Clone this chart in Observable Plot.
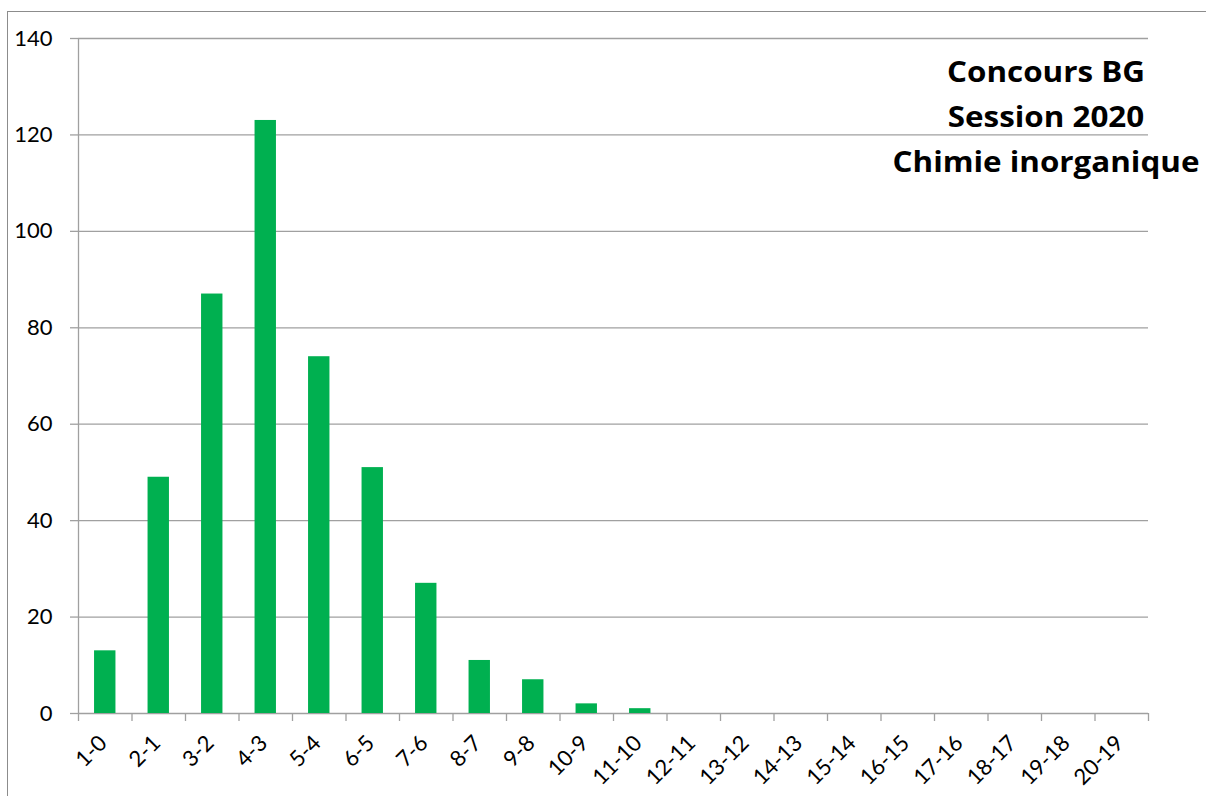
<!DOCTYPE html>
<html>
<head>
<meta charset="utf-8">
<script src="https://cdn.jsdelivr.net/npm/d3@7"></script>
<script src="https://cdn.jsdelivr.net/npm/@observablehq/plot@0.6"></script>
<style>
  html, body { margin: 0; padding: 0; background: #fff; }
  #wrap { position: relative; width: 1206px; height: 796px; overflow: hidden; }
  #frame { position: absolute; left: 7px; top: 11px; width: 1300px; height: 900px;
           border-left: 1.5px solid #8c8c8c; border-top: 1.5px solid #8c8c8c; pointer-events: none; }
  #title { position: absolute; left: 846px; width: 400px; top: 49px; text-align: center;
           font-family: "Open Sans", Lato, sans-serif; font-weight: 700; font-size: 28px;
           line-height: 45px; color: #000; transform: scaleX(1.12); transform-origin: 200px 0; }
</style>
</head>
<body>
<div id="wrap">
  <div id="chart"></div>
  <div id="frame"></div>
  <div id="title">Concours BG<br>Session 2020<br>Chimie inorganique</div>
</div>
<script>
const categories = ["1-0","2-1","3-2","4-3","5-4","6-5","7-6","8-7","9-8","10-9","11-10","12-11","13-12","14-13","15-14","16-15","17-16","18-17","19-18","20-19"];
const counts = [13, 49, 87, 123, 74, 51, 27, 11, 7, 2, 1, 0, 0, 0, 0, 0, 0, 0, 0, 0];
const yTicks = [0, 20, 40, 60, 80, 100, 120, 140];

const data = categories.map((c, i) => ({cat: c, n: counts[i]}));
const gray = "#a0a0a0";
const font = "Lato, 'Open Sans', sans-serif";

const chart = Plot.plot({
  width: 1206,
  height: 796,
  marginLeft: 78,
  marginRight: 58,
  marginTop: 38,
  marginBottom: 83,
  style: {fontFamily: font, fontSize: "21px", color: "#000", background: "transparent"},
  x: {domain: categories, paddingInner: 0.6, paddingOuter: 0.3, round: false, axis: null},
  y: {domain: [0, 140], axis: null},
  marks: [
    Plot.gridY(yTicks, {stroke: gray, strokeOpacity: 1, strokeWidth: 1.3}),
    Plot.axisY(yTicks, {tickSize: 8, tickPadding: 18, stroke: gray, strokeOpacity: 1, strokeWidth: 1.3,
      fill: "#000", fontSize: 22, label: null, tickFormat: d => String(d)}),
    Plot.ruleX([0], {x: () => categories[0], dx: -26.75, y1: 0, y2: 140, stroke: gray, strokeWidth: 1.3}),
    Plot.barY(data, {x: "cat", y: "n", fill: "#00B050"}),
    Plot.ruleX(categories, {x: d => d, y1: 0, y2: 0, insetBottom: -8, dx: -26.75, stroke: gray, strokeWidth: 1.3}),
    Plot.ruleX([categories[categories.length - 1]], {x: d => d, y1: 0, y2: 0, insetBottom: -8, dx: 26.75, stroke: gray, strokeWidth: 1.3}),
    Plot.text(categories, {x: d => d, frameAnchor: "bottom", rotate: -45, textAnchor: "end",
      dy: 31, dx: 3, fontSize: 22, fill: "#000"})
  ]
});
document.getElementById("chart").appendChild(chart);
</script>
</body>
</html>
